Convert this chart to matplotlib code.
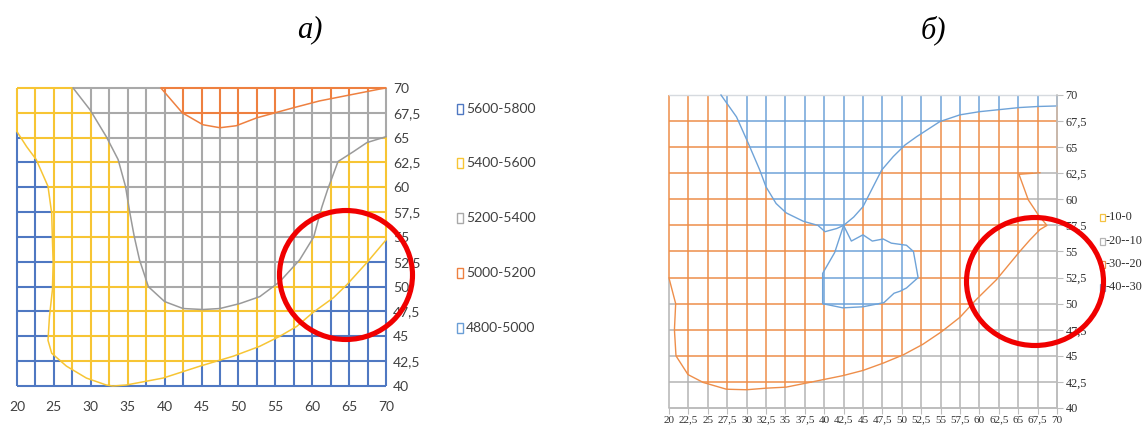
import numpy as np
import matplotlib
matplotlib.use("Agg")
import matplotlib.pyplot as plt
from matplotlib.path import Path
from matplotlib.collections import LineCollection
from matplotlib.patches import Ellipse, Rectangle

# ---------------- data: panel a ----------------
a_grid_x = [20, 22.5, 25, 27.5, 30, 32.5, 35, 37.5, 40, 42.5, 45, 47.5, 50,
            52.5, 55, 57.5, 60, 62.5, 65, 67.5, 70]
a_grid_y = [40, 42.5, 45, 47.5, 50, 52.5, 55, 57.5, 60, 62.5, 65, 67.5, 70]
a_xtick_vals = [20, 25, 30, 35, 40, 45, 50, 55, 60, 65, 70]
a_xtick_labels = ["20", "25", "30", "35", "40", "45", "50", "55", "60", "65", "70"]
a_ytick_labels = ["40", "42,5", "45", "47,5", "50", "52,5", "55", "57,5",
                  "60", "62,5", "65", "67,5", "70"]
# contour 5000/5200 (orange)
a_orange_x = [39.5, 42.4, 45.2, 47.5, 49.7, 52.5, 57.4, 61.0, 65.1, 69.2, 70]
a_orange_y = [70, 67.5, 66.3, 66.0, 66.2, 67.0, 68.0, 68.7, 69.3, 69.9, 70]
# contour 5200/5400 (gray)
a_gray_x = [27.6, 29.9, 32.1, 33.7, 34.7, 35.3, 35.9, 36.6, 37.8, 40.0, 42.5,
            45.2, 47.5, 50.2, 52.9, 55.6, 58.3, 60.2, 61.3, 62.1, 63.5, 65.6,
            67.4, 70]
a_gray_y = [70, 67.8, 65.1, 62.8, 60.1, 57.4, 55.0, 52.7, 50.0, 48.5, 47.8,
            47.7, 47.8, 48.3, 49.0, 50.5, 52.7, 55.0, 58.0, 59.8, 62.6, 63.6,
            64.5, 65.1]
# contour 5400/5600 (yellow)
a_yellow_x = [20, 21.3, 22.6, 24.2, 24.7, 24.8, 24.9, 24.8, 24.4, 24.2, 24.7,
              26.7, 29.4, 32.1, 33.0, 34.8, 39.8, 44.8, 49.3, 52.9, 55.6, 57.9,
              60.1, 62.9, 64.7, 67.5, 70]
a_yellow_y = [65.6, 64.1, 62.8, 60.1, 57.4, 54.7, 52.4, 49.7, 47.0, 44.6, 43.3,
              42.0, 40.8, 40.1, 40.0, 40.1, 40.8, 42.0, 43.0, 44.0, 45.0, 46.0,
              47.4, 48.9, 50.2, 52.5, 54.7]
a_legend_labels = ["5600-5800", "5400-5600", "5200-5400", "5000-5200", "4800-5000"]

# ---------------- data: panel b ----------------
b_grid_x = a_grid_x
b_grid_y = [40, 42.5, 45, 47.5, 50, 52.5, 55, 57.5, 60, 62.5, 65, 67.5]
b_top_y = 70
b_xtick_labels = ["20", "22,5", "25", "27,5", "30", "32,5", "35", "37,5", "40",
                  "42,5", "45", "47,5", "50", "52,5", "55", "57,5", "60", "62,5",
                  "65", "67,5", "70"]
b_ytick_vals = a_grid_y
b_ytick_labels = a_ytick_labels
# contour -30/-20 (orange, border of gray zone)
b_orange_x = [20, 20.86, 20.7, 20.9, 22.45, 24.4, 27.4, 30.0, 32.5, 35.1, 38.1,
              42.4, 45.0, 47.6, 50.2, 52.7, 55.1, 57.5, 59.6, 62.2, 65.2, 66.5,
              67.8, 68.7, 67.6, 66.3, 65.1, 67.8]
b_orange_y = [52.45, 50.0, 47.5, 45.0, 43.2, 42.45, 41.8, 41.75, 41.9, 42.0,
              42.45, 43.1, 43.6, 44.3, 45.1, 46.1, 47.3, 48.7, 50.4, 52.3, 55.0,
              56.1, 57.1, 57.5, 58.5, 59.95, 62.4, 62.55]
# contour -40/-30 (blue, upper zone)
b_blue_x = [26.7, 28.7, 30.2, 31.7, 32.5, 33.8, 35.1, 37.3, 39.2, 40.1, 41.6,
            42.5, 43.8, 45.0, 47.4, 48.9, 50.4, 51.9, 54.9, 57.5, 60.0, 62.6,
            65.2, 67.6, 70]
b_blue_y = [70, 67.9, 65.4, 62.8, 61.2, 59.6, 58.7, 57.9, 57.5, 56.9, 57.2,
            57.5, 58.3, 59.3, 62.8, 64.1, 65.2, 66.0, 67.45, 68.1, 68.4, 68.6,
            68.8, 68.9, 68.95]
# contour -40/-30 (blue island)
b_island_x = [42.5, 43.5, 45.0, 46.2, 47.6, 48.65, 50.6, 51.5, 52.1, 50.6, 49.8,
              49.0, 47.7, 45.0, 42.4, 39.8, 39.8, 41.35, 42.5]
b_island_y = [57.5, 56.0, 56.6, 56.0, 56.2, 55.8, 55.6, 55.0, 52.5, 51.5, 51.2,
              51.0, 50.1, 49.7, 49.6, 50.0, 52.9, 54.9, 57.5]
b_legend_labels = ["-10-0", "-20--10", "-30--20", "-40--30"]

# ---------------- styles ----------------
A_COL = {"blue": "#4F78C2", "yellow": "#F7C534", "gray": "#A9A9A9", "orange": "#EE8040",
         "lblue": "#6A9ED6"}
B_COL = {"blue": "#6FA3D8", "orange": "#EE8E4A", "gray": "#B4B4B4", "yellow": "#F5C242"}

W, H = 1142, 428
fig = plt.figure(figsize=(W / 100, H / 100), dpi=100)


def fx(px):
    return px / W


def fy(py):
    return 1 - py / H


def grid_segments(xs, ys, classify, x_range, y_range, n=1500):
    segs, keys = [], []
    x0, x1 = x_range
    y0, y1 = y_range
    for vertical, fixed, lo, hi in ([(True, x, y0, y1) for x in xs] +
                                    [(False, y, x0, x1) for y in ys]):
        t = np.linspace(lo, hi, n + 1)
        m = (t[:-1] + t[1:]) / 2
        c = np.full_like(m, fixed)
        pts = np.column_stack([c, m]) if vertical else np.column_stack([m, c])
        cls = classify(pts)
        change = np.flatnonzero(cls[1:] != cls[:-1]) + 1
        starts = np.r_[0, change]
        ends = np.r_[change, len(m)]
        for s, e in zip(starts, ends):
            if vertical:
                segs.append([(fixed, t[s]), (fixed, t[e])])
            else:
                segs.append([(t[s], fixed), (t[e], fixed)])
            keys.append(cls[s])
    return segs, keys


# ================= panel a =================
axa = fig.add_axes([fx(17), fy(386), fx(386) - fx(17), fy(88) - fy(386)])
axa.set_xlim(20, 70)
axa.set_ylim(40, 70)

pa_orange = Path(list(zip(a_orange_x, a_orange_y)) + [(70.5, 70), (70.5, 70.5), (39.5, 70.5)])
pa_gray = Path(list(zip(a_gray_x, a_gray_y)) + [(70.5, a_gray_y[-1]), (70.5, 70.5), (a_gray_x[0], 70.5)])
pa_blue = Path([(19.5, a_yellow_y[0])] + list(zip(a_yellow_x, a_yellow_y)) +
               [(70.5, a_yellow_y[-1]), (70.5, 39.5), (19.5, 39.5)])


def classify_a(pts):
    cls = np.full(len(pts), "yellow", dtype=object)
    cls[pa_gray.contains_points(pts)] = "gray"
    cls[pa_orange.contains_points(pts)] = "orange"
    cls[pa_blue.contains_points(pts)] = "blue"
    return cls


segs, keys = grid_segments(a_grid_x, a_grid_y, classify_a, (20, 70), (40, 70))
lc = LineCollection(segs, colors=[A_COL[k] for k in keys], linewidths=1.5,
                    capstyle="butt", clip_on=False, zorder=1)
axa.add_collection(lc)
axa.plot(a_orange_x, a_orange_y, color=A_COL["orange"], lw=1.1, clip_on=False, zorder=3)
axa.plot(a_gray_x, a_gray_y, color="#9A9A9A", lw=1.1, clip_on=False, zorder=3)
axa.plot(a_yellow_x, a_yellow_y, color=A_COL["yellow"], lw=1.1, clip_on=False, zorder=3)

for s in axa.spines.values():
    s.set_visible(False)
axa.yaxis.tick_right()
axa.set_xticks(a_xtick_vals)
axa.set_xticklabels(a_xtick_labels, family=["Lato", "DejaVu Sans"], fontsize=10, color="#404040")
axa.set_yticks(a_grid_y)
axa.set_yticklabels(a_ytick_labels, family=["Lato", "DejaVu Sans"], fontsize=10, color="#404040")
axa.tick_params(axis="x", length=0, pad=11)
axa.tick_params(axis="y", length=0, pad=5)
axa.patch.set_visible(False)

# legend a
leg_a_cols = [A_COL["blue"], A_COL["yellow"], A_COL["gray"], A_COL["orange"], A_COL["lblue"]]
for lab, col, yc in zip(a_legend_labels, leg_a_cols, [109, 163, 218, 273, 328]):
    fig.add_artist(Rectangle((fx(456.5), fy(yc + 5)), 6 / W, 10 / H, transform=fig.transFigure,
                             fill=False, ec=col, lw=1.0))
    fig.text(fx(466), fy(yc), lab, ha="left", va="center", fontsize=10,
             family=["Lato", "DejaVu Sans"], color="#404040")

# ================= panel b =================
axb = fig.add_axes([fx(669), fy(408), fx(1057) - fx(669), fy(95) - fy(408)])
axb.set_xlim(20, 70)
axb.set_ylim(40, 70)

pb_gray = Path([(19.5, b_orange_y[0])] + list(zip(b_orange_x, b_orange_y)) +
               [(70.5, b_orange_y[-1]), (70.5, 39.5), (19.5, 39.5)])
pb_blue = Path(list(zip(b_blue_x, b_blue_y)) + [(70.5, b_blue_y[-1]), (70.5, 70.5), (b_blue_x[0], 70.5)])
pb_island = Path(list(zip(b_island_x, b_island_y)))


def classify_b(pts):
    cls = np.full(len(pts), "orange", dtype=object)
    cls[pb_gray.contains_points(pts)] = "gray"
    cls[pb_blue.contains_points(pts)] = "blue"
    cls[pb_island.contains_points(pts)] = "blue"
    return cls


segs, keys = grid_segments(b_grid_x, b_grid_y, classify_b, (20, 70), (40, 70))
lc = LineCollection(segs, colors=[B_COL[k] for k in keys], linewidths=1.1,
                    capstyle="butt", clip_on=False, zorder=1)
axb.add_collection(lc)
axb.axhline(b_top_y, color="#D6DADF", lw=1.0, clip_on=False, zorder=2)
axb.plot(b_orange_x, b_orange_y, color=B_COL["orange"], lw=1.0, clip_on=False, zorder=3)
axb.plot(b_blue_x, b_blue_y, color=B_COL["blue"], lw=1.0, clip_on=False, zorder=3)
axb.plot(b_island_x, b_island_y, color=B_COL["blue"], lw=1.0, clip_on=False, zorder=3)

for k, s in axb.spines.items():
    s.set_visible(k in ("right", "bottom"))
    s.set_color("#BDBDBD")
    s.set_linewidth(1.1)
    s.set_zorder(4)
axb.yaxis.tick_right()
axb.set_xticks(b_grid_x)
axb.set_xticklabels(b_xtick_labels, family=["Liberation Serif", "DejaVu Serif"], fontsize=8,
                    color="#303030")
axb.set_yticks(b_ytick_vals)
axb.set_yticklabels(b_ytick_labels, family=["Liberation Serif", "DejaVu Serif"], fontsize=8.8,
                    color="#303030")
axb.tick_params(axis="x", length=4, width=0.8, color="#BDBDBD", pad=1.5, direction="out")
axb.tick_params(axis="y", length=4, width=0.8, color="#BDBDBD", pad=2, direction="out")
axb.patch.set_visible(False)

leg_b_cols = [B_COL["yellow"], B_COL["gray"], B_COL["orange"], B_COL["blue"]]
for lab, col, yc in zip(b_legend_labels, leg_b_cols, [217, 241, 264, 287]):
    fig.add_artist(Rectangle((fx(1099.5), fy(yc + 3.5)), 5 / W, 7 / H, transform=fig.transFigure,
                             fill=False, ec=col, lw=0.9))
    fig.text(fx(1106), fy(yc), lab, ha="left", va="center", fontsize=8.8,
             family=["Liberation Serif", "DejaVu Serif"], color="#303030")

# ================= titles =================
fig.text(fx(310), fy(30), "а)", ha="center", va="center", fontsize=22,
         family=["Liberation Serif", "DejaVu Serif"], style="italic")
fig.text(fx(933), fy(30), "б)", ha="center", va="center", fontsize=22,
         family=["Liberation Serif", "DejaVu Serif"], style="italic")

# ================= red circles =================
for cx, cy, w, h in [(346, 275, 133, 129), (1035, 281.5, 137, 128)]:
    fig.add_artist(Ellipse((fx(cx), fy(cy)), w / W, h / H, transform=fig.transFigure,
                           fill=False, ec="#F00000", lw=3.7, zorder=20))

fig.savefig("out.png", dpi=100)
